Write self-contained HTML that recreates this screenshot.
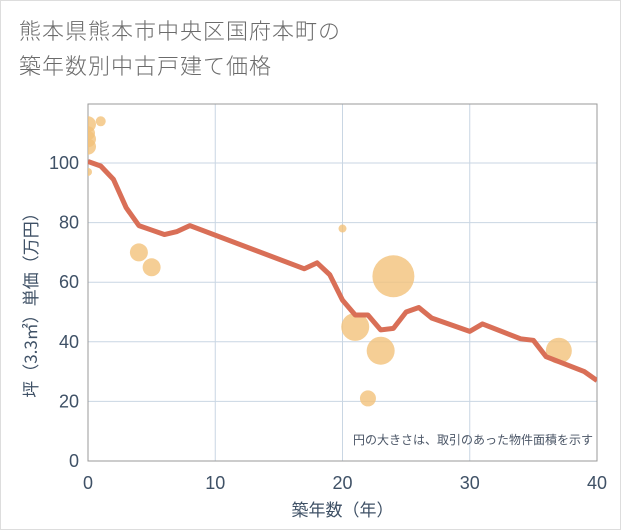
<!DOCTYPE html>
<html><head><meta charset="utf-8"><style>
body{margin:0;background:#fff;}
#wrap{position:relative;width:619px;height:528px;border:1px solid #ddd;background:#fff;font-family:"Liberation Sans","Noto Sans CJK JP",sans-serif;}
#title{position:absolute;left:18px;top:12px;font-size:22px;line-height:35px;color:#6b6b6b;letter-spacing:1px;font-family:"Noto Sans CJK JP",sans-serif;font-weight:300;}
svg{position:absolute;left:0;top:0;}
</style></head><body>
<div id="wrap">
<div id="title">熊本県熊本市中央区国府本町の<br>築年数別中古戸建て価格</div>
<svg id="chart" width="621" height="530"><defs><clipPath id="pc"><rect x="87" y="103" width="509" height="357"/></clipPath></defs></svg>
</div>
<script>
const lineYears=[0,1,2,3,4,5,6,7,8,17,18,19,20,21,22,23,24,25,26,27,30,31,34,35,36,39,40];
const lineValues=[100.5,99,94.5,85,79,77.5,76,77,79,64.5,66.5,62.5,54,49,49,44,44.5,50,51.5,48,43.5,46,41,40.5,35,30,27];
const bubbleYears=[0,0,0,0,0,1,4,5,20,21,22,23,24,37];
const bubbleValues=[113,110,108,105.5,97,114,70,65,78,45,21,37,62,37];
const bubbleSizes=[8,7,8,8,4,5,9,9,4,14,8,14,21,13];
const xTicks=[0,10,20,30,40];
const yTicks=[0,20,40,60,80,100];
const L=87,R=596,T=103,B=460;
const xs=v=>L+(R-L)*v/40;
const ys=v=>B-(B-162)*v/100;
const NS="http://www.w3.org/2000/svg";
const svg=document.getElementById('chart');
function mk(t,a,p){const e=document.createElementNS(NS,t);for(const k in a)e.setAttribute(k,a[k]);(p||svg).appendChild(e);return e;}
const TC='#3f5166';
xTicks.forEach(t=>{
 const g=mk('line',{x1:xs(t),x2:xs(t),y1:T,y2:B,stroke:'#c9d6e3','stroke-width':1});
 
 
 const tx=mk('text',{x:xs(t),y:488,'text-anchor':'middle','font-size':18,fill:TC});
 tx.textContent=t;
 
 
});
yTicks.forEach(t=>{
 const g=mk('line',{x1:L,x2:R,y1:ys(t),y2:ys(t),stroke:'#c9d6e3','stroke-width':1});
 
 
 const tx=mk('text',{x:78,y:ys(t)+6,'text-anchor':'end','font-size':18,fill:TC});
 tx.textContent=t;
 
 
});
const fr=mk('rect',{x:L,y:T,width:R-L,height:B-T,fill:'none',stroke:'#999','stroke-width':1});


const pg=mk('g',{'clip-path':'url(#pc)'});


bubbleYears.forEach((y,i)=>{
 const c=mk('circle',{cx:xs(y),cy:ys(bubbleValues[i]),r:bubbleSizes[i],fill:'#f3c27a','fill-opacity':0.8},pg);
 
 
});
const pl=mk('polyline',{points:lineYears.map((y,i)=>xs(y)+','+ys(lineValues[i])).join(' '),fill:'none',stroke:'#d96f57','stroke-width':5,'stroke-linejoin':'round'},pg);


const note=mk('text',{x:592,y:443,'text-anchor':'end','font-size':12,fill:'#4a5566','font-family':'Noto Sans CJK JP,sans-serif'});
note.textContent='円の大きさは、取引のあった物件面積を示す';


const xt=mk('text',{x:(L+R)/2,y:515,'text-anchor':'middle','font-size':17,fill:TC,'font-family':'Noto Sans CJK JP,sans-serif'});
xt.textContent='築年数（年）';


const yt=mk('text',{x:0,y:0,'text-anchor':'middle','font-size':17,fill:TC,'font-family':'Noto Sans CJK JP,sans-serif',transform:'translate(36,300) rotate(-90)'});
yt.textContent='坪（3.3㎡）単価（万円）';


</script>
</body></html>
